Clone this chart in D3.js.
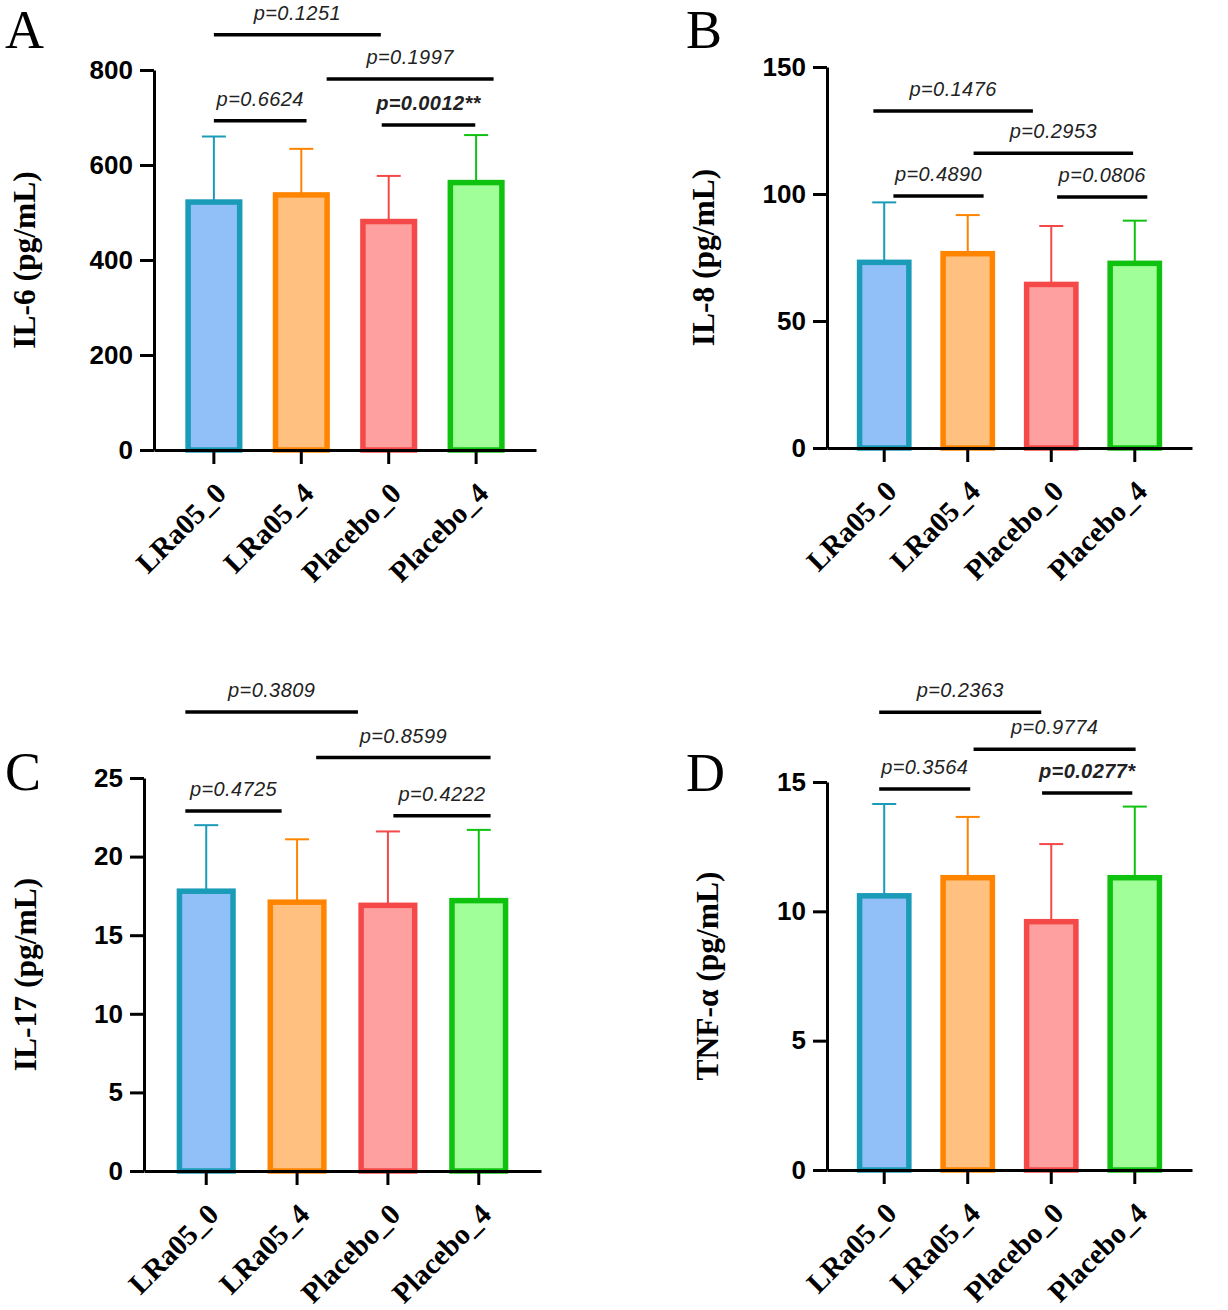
<!DOCTYPE html>
<html>
<head>
<meta charset="utf-8">
<script src="https://cdn.jsdelivr.net/npm/d3@7"></script>
<style>
body{margin:0;background:#fff;}
</style>
</head>
<body>
<svg id="fig" width="1228" height="1310"></svg>
<script>
'use strict';

// groups shared by all four panels
var categories = ["LRa05_0", "LRa05_4", "Placebo_0", "Placebo_4"];
var strokeColors = ["#1a9bb8", "#ff8400", "#f54848", "#0fc20f"];
var fillColors = ["#91bff8", "#ffc080", "#ffa0a0", "#a0ff98"];

// IL-6
var il6Mean = [522, 537, 481, 563];
var il6Sd = [138, 97, 96, 100];
var il6Ticks = [0, 200, 400, 600, 800];
// [from group, to group, height, label, bold]
var il6Pairs = [[0, 1.91, 874, "p=0.1251", false],
                [1.29, 3.20, 781, "p=0.1997", false],
                [0, 1.06, 693, "p=0.6624", false],
                [1.92, 2.99, 684, "p=0.0012**", true]];

// IL-8
var il8Mean = [73.1, 76.5, 64.4, 72.7];
var il8Sd = [23.6, 15.2, 23.0, 16.8];
var il8Ticks = [0, 50, 100, 150];
var il8Pairs = [[-0.13, 1.78, 132.7, "p=0.1476", false],
                [1.07, 2.98, 116, "p=0.2953", false],
                [0.11, 1.19, 99.2, "p=0.4890", false],
                [2.07, 3.15, 98.8, "p=0.0806", false]];

// IL-17
var il17Mean = [17.8, 17.1, 16.9, 17.2];
var il17Sd = [4.2, 4.0, 4.7, 4.5];
var il17Ticks = [0, 5, 10, 15, 20, 25];
var il17Pairs = [[-0.23, 1.67, 29.2, "p=0.3809", false],
                 [1.21, 3.13, 26.3, "p=0.8599", false],
                 [-0.23, 0.83, 22.9, "p=0.4725", false],
                 [2.06, 3.13, 22.6, "p=0.4222", false]];

// TNF-a
var tnfMean = [10.6, 11.3, 9.6, 11.3];
var tnfSd = [3.55, 2.35, 3.0, 2.75];
var tnfTicks = [0, 5, 10, 15];
var tnfPairs = [[-0.06, 1.88, 17.7, "p=0.2363", false],
                [1.07, 3.01, 16.27, "p=0.9774", false],
                [-0.06, 1.03, 14.73, "p=0.3564", false],
                [1.89, 2.97, 14.57, "p=0.0277*", true]];

var svg = d3.select("#fig");

function drawPanel(p){
    var g = svg.append("g");
    var x = d3.scaleBand()
        .domain(categories)
        .range([p.x0, p.x1])
        .paddingInner(0)
        .paddingOuter(0.185);
    var y = d3.scaleLinear()
        .domain([0, d3.max(p.ticks)])
        .range([p.yBot, p.yTop]);
    var step = x.step();
    var center = function(i){ return x(categories[i]) + x.bandwidth()/2; };
    var pos = function(f){ return center(0) + f*step; };
    var bw = step*0.59;

    // error bars (upper only)
    var err = g.selectAll(".err").data(p.mean).enter().append("g");
    err.append("line")
        .attr("x1", function(d,i){return center(i);})
        .attr("x2", function(d,i){return center(i);})
        .attr("y1", function(d){return y(d);})
        .attr("y2", function(d,i){return y(d+p.sd[i]);})
        .style("stroke", function(d,i){return strokeColors[i];})
        .style("stroke-width", 2);
    err.append("line")
        .attr("x1", function(d,i){return center(i)-12;})
        .attr("x2", function(d,i){return center(i)+12;})
        .attr("y1", function(d,i){return y(d+p.sd[i]);})
        .attr("y2", function(d,i){return y(d+p.sd[i]);})
        .style("stroke", function(d,i){return strokeColors[i];})
        .style("stroke-width", 2);

    // bars
    g.selectAll(".bar").data(p.mean).enter().append("rect")
        .attr("x", function(d,i){return center(i)-bw/2;})
        .attr("y", function(d){return y(d);})
        .attr("width", bw)
        .attr("height", function(d){return y(0)-y(d);})
        .style("fill", function(d,i){return fillColors[i];})
        .style("stroke", function(d,i){return strokeColors[i];})
        .style("stroke-width", 5.5);

    // axes
    var ya = g.append("g")
        .attr("transform", "translate(" + p.x0 + ",0)")
        .call(d3.axisLeft(y).tickValues(p.ticks).tickSize(14).tickPadding(7).tickSizeOuter(0));
    var xa = g.append("g")
        .attr("transform", "translate(0," + p.yBot + ")")
        .call(d3.axisBottom(x).tickSize(14).tickSizeOuter(0));
    [ya, xa].forEach(function(a){
        a.selectAll("path,line").style("stroke", "#000").style("stroke-width", 3);
    });
    ya.selectAll("text")
        .style("font-family", "'Liberation Sans', Arial, sans-serif")
        .style("font-weight", "bold")
        .style("font-size", "26px")
        .style("fill", "#000");
    xa.selectAll("text")
        .attr("y", null).attr("dy", null)
        .attr("text-anchor", "end")
        .attr("transform", "translate(14,45) rotate(-45)")
        .style("font-family", "'Liberation Serif', 'Times New Roman', serif")
        .style("font-weight", "bold")
        .style("font-size", "29px")
        .style("fill", "#000");

    // y axis title
    g.append("text")
        .attr("transform", "translate(" + p.titleX + "," + (p.yTop+p.yBot)/2 + ") rotate(-90)")
        .attr("text-anchor", "middle")
        .style("font-family", "'Liberation Serif', 'Times New Roman', serif")
        .style("font-weight", "bold")
        .style("font-size", "31.5px")
        .text(p.title);

    // comparison brackets
    var br = g.selectAll(".br").data(p.pairs).enter().append("g");
    br.append("line")
        .attr("x1", function(d){return pos(d[0]);})
        .attr("x2", function(d){return pos(d[1]);})
        .attr("y1", function(d){return y(d[2]);})
        .attr("y2", function(d){return y(d[2]);})
        .style("stroke", "#000")
        .style("stroke-width", 3.5);
    br.append("text")
        .attr("x", function(d){return (pos(d[0])+pos(d[1]))/2;})
        .attr("y", function(d){return y(d[2])-15;})
        .attr("text-anchor", "middle")
        .style("font-family", "'Liberation Sans', Arial, sans-serif")
        .style("font-style", "italic")
        .style("font-weight", function(d){return d[4] ? "bold" : "normal";})
        .style("font-size", "20px")
        .style("letter-spacing", "0.4px")
        .style("fill", "#222")
        .text(function(d){return d[3];});

    // panel letter
    svg.append("text")
        .attr("x", p.letterX).attr("y", p.letterY)
        .style("font-family", "'Liberation Serif', 'Times New Roman', serif")
        .style("font-size", "54px")
        .text(p.letter);
}

drawPanel({letter:"A", letterX:5, letterY:48, title:"IL-6 (pg/mL)", titleX:35,
    x0:154, x1:536, yTop:70, yBot:450, mean:il6Mean, sd:il6Sd, ticks:il6Ticks, pairs:il6Pairs});
drawPanel({letter:"B", letterX:686, letterY:48, title:"IL-8 (pg/mL)", titleX:714,
    x0:827, x1:1192, yTop:67, yBot:448, mean:il8Mean, sd:il8Sd, ticks:il8Ticks, pairs:il8Pairs});
drawPanel({letter:"C", letterX:5, letterY:790, title:"IL-17 (pg/mL)", titleX:36,
    x0:144, x1:541, yTop:778, yBot:1171, mean:il17Mean, sd:il17Sd, ticks:il17Ticks, pairs:il17Pairs});
drawPanel({letter:"D", letterX:686, letterY:791, title:"TNF-α (pg/mL)", titleX:718,
    x0:827, x1:1192, yTop:782, yBot:1170, mean:tnfMean, sd:tnfSd, ticks:tnfTicks, pairs:tnfPairs});
</script>
</body>
</html>
